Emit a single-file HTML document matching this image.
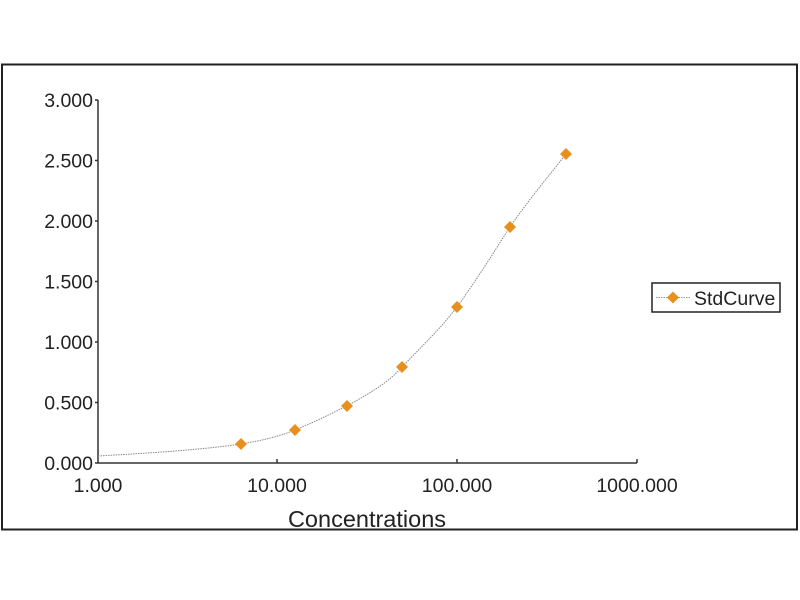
<!DOCTYPE html>
<html><head><style>body{margin:0;background:#fff}svg{display:block}</style></head><body>
<svg width="800" height="600" xmlns="http://www.w3.org/2000/svg" font-family="Liberation Sans, Arial, sans-serif">
<rect x="2" y="64.5" width="795" height="465" fill="#fff" stroke="#222" stroke-width="2"/>
<g stroke="#333" stroke-width="1.5" fill="none">
<line x1="98" y1="100" x2="98" y2="463"/>
<line x1="98" y1="463" x2="637" y2="463"/>
<line x1="95" y1="100" x2="98" y2="100"/><line x1="95" y1="160.5" x2="98" y2="160.5"/><line x1="95" y1="221" x2="98" y2="221"/><line x1="95" y1="281.5" x2="98" y2="281.5"/><line x1="95" y1="342" x2="98" y2="342"/><line x1="95" y1="402.5" x2="98" y2="402.5"/><line x1="95" y1="463" x2="98" y2="463"/>
<line x1="277" y1="459" x2="277" y2="463"/><line x1="457" y1="459" x2="457" y2="463"/><line x1="637" y1="459" x2="637" y2="463"/>
</g>
<g font-size="19.5" fill="#222" text-anchor="end">
<text x="93" y="107">3.000</text><text x="93" y="167.5">2.500</text><text x="93" y="228">2.000</text><text x="93" y="288.5">1.500</text><text x="93" y="349">1.000</text><text x="93" y="409.5">0.500</text><text x="93" y="470">0.000</text>
</g>
<g font-size="19.5" fill="#222" text-anchor="middle">
<text x="98" y="492">1.000</text><text x="277" y="492">10.000</text><text x="457" y="492">100.000</text><text x="637" y="492">1000.000</text>
</g>
<text x="367" y="527" font-size="23.5" fill="#222" text-anchor="middle">Concentrations</text>
<path d="M98,456 C150,453 200,450 241,444 C265,440 280,436 295,430 C315,422 330,414 347,406 C370,393 388,383 402,367 C425,343 440,329 457,307 C480,275 495,250 510,227 C530,198 548,177 566,154" fill="none" stroke="#888" stroke-width="1" stroke-dasharray="1.5,1"/>
<g fill="#e8901e">
<path d="M241,438 l6,6 l-6,6 l-6,-6z"/><path d="M295,424 l6,6 l-6,6 l-6,-6z"/><path d="M347,400 l6,6 l-6,6 l-6,-6z"/><path d="M402,361 l6,6 l-6,6 l-6,-6z"/><path d="M457,301 l6,6 l-6,6 l-6,-6z"/><path d="M510,221 l6,6 l-6,6 l-6,-6z"/><path d="M566,148 l6,6 l-6,6 l-6,-6z"/>
</g>
<rect x="652" y="283" width="128" height="29" fill="#fff" stroke="#222" stroke-width="1.5"/>
<line x1="656" y1="297.5" x2="690" y2="297.5" stroke="#999" stroke-dasharray="1.5,1"/>
<path d="M673,291.5 l6,6 l-6,6 l-6,-6z" fill="#e8901e"/>
<text x="694" y="305" font-size="19.5" fill="#222">StdCurve</text>
</svg>
</body></html>
